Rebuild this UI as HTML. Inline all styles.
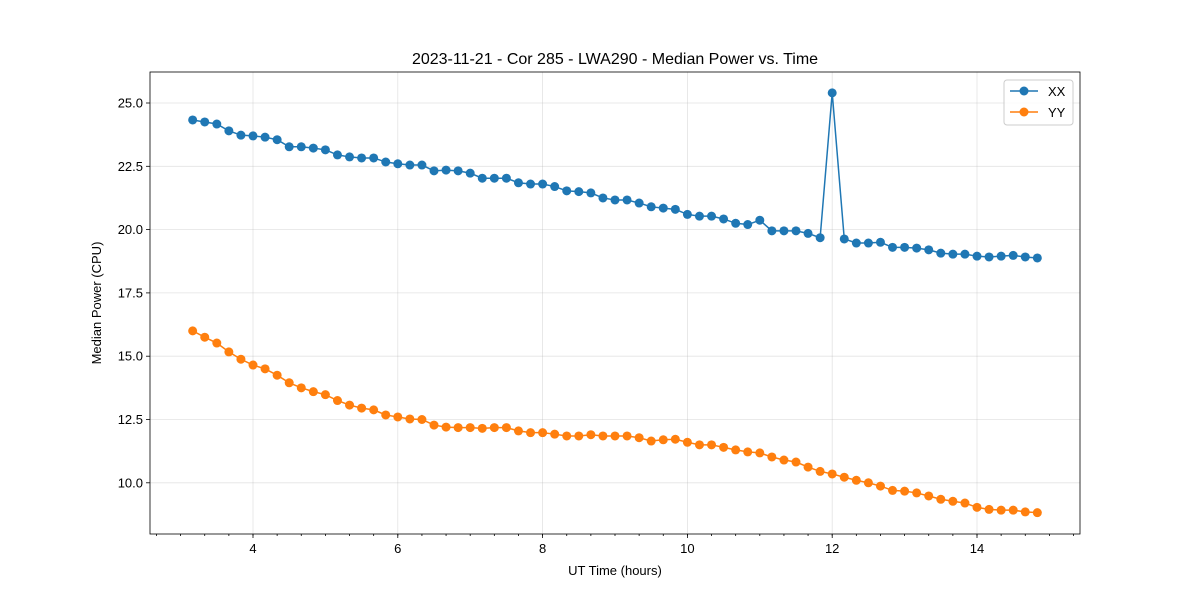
<!DOCTYPE html>
<html><head><meta charset="utf-8"><style>body{margin:0;background:#fff}svg{font-family:"Liberation Sans","DejaVu Sans",sans-serif}</style></head>
<body>
<svg id="chart" width="1200" height="600"></svg>
<script>
const xxValues=[24.33,24.25,24.17,23.9,23.73,23.7,23.65,23.55,23.27,23.27,23.22,23.15,22.95,22.87,22.83,22.83,22.67,22.6,22.55,22.55,22.32,22.35,22.32,22.23,22.03,22.03,22.03,21.85,21.8,21.8,21.7,21.53,21.5,21.45,21.25,21.17,21.17,21.05,20.9,20.85,20.8,20.6,20.53,20.53,20.42,20.25,20.2,20.37,19.95,19.95,19.95,19.85,19.68,25.4,19.63,19.47,19.47,19.5,19.3,19.3,19.27,19.2,19.07,19.03,19.03,18.95,18.92,18.95,18.98,18.92,18.88];
const yyValues=[16.0,15.75,15.52,15.17,14.88,14.65,14.5,14.25,13.95,13.75,13.6,13.48,13.25,13.07,12.95,12.88,12.68,12.6,12.52,12.5,12.28,12.2,12.18,12.18,12.15,12.18,12.18,12.05,11.98,11.98,11.92,11.85,11.85,11.9,11.85,11.85,11.85,11.78,11.65,11.7,11.72,11.6,11.5,11.5,11.4,11.3,11.22,11.18,11.02,10.9,10.82,10.62,10.45,10.35,10.22,10.1,10.0,9.87,9.7,9.67,9.6,9.48,9.35,9.27,9.2,9.03,8.95,8.92,8.92,8.85,8.82];
const startHour=3+1/6, stepHour=1/6;
const xTicks=[4,6,8,10,12,14];
const yTicks=[10.0,12.5,15.0,17.5,20.0,22.5,25.0];
const L=150,R=1080,T=72,B=534;
const X=h=>253+(h-4)*72.4;
const Y=v=>103+(25-v)*25.32;
const svg=document.getElementById('chart');
const NS='http://www.w3.org/2000/svg';
function mk(tag,attrs,parent){const e=document.createElementNS(NS,tag);for(const k in attrs)e.setAttribute(k,attrs[k]);(parent||svg).appendChild(e);return e;}
// grid
xTicks.forEach(t=>{const l=mk('line',{x1:X(t),x2:X(t),y1:T,y2:B,stroke:'#b0b0b0','stroke-opacity':0.35,'stroke-width':0.8});

});
yTicks.forEach(t=>{const l=mk('line',{x1:L,x2:R,y1:Y(t),y2:Y(t),stroke:'#b0b0b0','stroke-opacity':0.35,'stroke-width':0.8});

});
// minor ticks
for(let h=2+2/3;h<15.4;h+=1/3){const x=X(h);if(x<L||x>R)continue;mk('line',{x1:x,x2:x,y1:B,y2:B+2,stroke:'#000','stroke-width':0.8});}
xTicks.forEach(t=>{mk('line',{x1:X(t),x2:X(t),y1:B,y2:B+4,stroke:'#000','stroke-width':0.8});
const tx=mk('text',{x:X(t),y:B+19,'text-anchor':'middle','font-size':13});tx.textContent=t;

});
yTicks.forEach(t=>{mk('line',{x1:L-4,x2:L,y1:Y(t),y2:Y(t),stroke:'#000','stroke-width':0.8});
const tx=mk('text',{x:L-7,y:Y(t)+4.5,'text-anchor':'end','font-size':13});tx.textContent=t.toFixed(1);

});
function series(vals,color,name){
 const pts=vals.map((v,i)=>[X(startHour+i*stepHour),Y(v)]);
 const p=mk('polyline',{points:pts.map(p=>p.join(',')).join(' '),fill:'none',stroke:color,'stroke-width':1.5});
 
 
 pts.forEach(q=>{const c=mk('circle',{cx:q[0],cy:q[1],r:4.5,fill:color});
 
 });
}
series(xxValues,'#1f77b4','xx');
series(yyValues,'#ff7f0e','yy');
const fr=mk('rect',{x:L,y:T,width:R-L,height:B-T,fill:'none',stroke:'#000','stroke-width':0.8});


const ti=mk('text',{x:615,y:64,'text-anchor':'middle','font-size':16});ti.textContent='2023-11-21 - Cor 285 - LWA290 - Median Power vs. Time';


const xl=mk('text',{x:615,y:575,'text-anchor':'middle','font-size':13});xl.textContent='UT Time (hours)';


const yl=mk('text',{x:101,y:303,'text-anchor':'middle','font-size':13,transform:'rotate(-90 101 303)'});yl.textContent='Median Power (CPU)';


const lg=mk('g',{});


mk('rect',{x:1004,y:80,width:69,height:45,rx:3,fill:'#fff','fill-opacity':0.8,stroke:'#ccc'},lg);
[['XX','#1f77b4',91],['YY','#ff7f0e',112]].forEach(([n,c,y])=>{
 const e=mk('g',{},lg);
 
 
 mk('line',{x1:1010,x2:1038,y1:y,y2:y,stroke:c,'stroke-width':1.5},e);
 mk('circle',{cx:1024,cy:y,r:4.5,fill:c},e);
 const t=mk('text',{x:1048,y:y+5,'font-size':13},e);t.textContent=n;
});
</script>
</body></html>
